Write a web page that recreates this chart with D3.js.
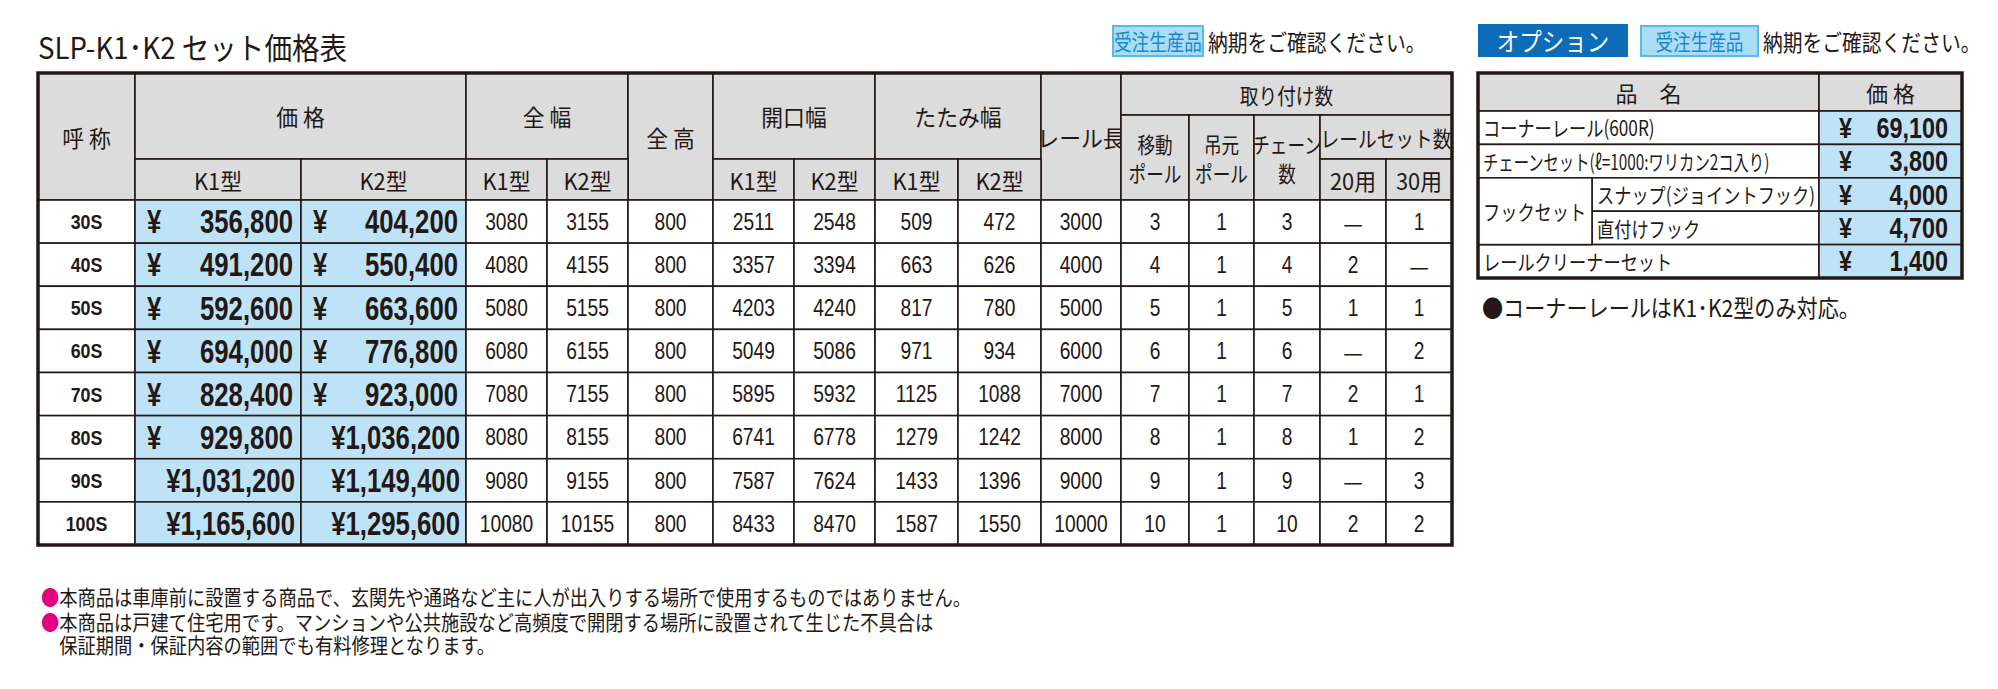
<!DOCTYPE html><html><head><meta charset="utf-8"><script src="https://cdn.jsdelivr.net/npm/d3@7"></script>
<style>body{margin:0;background:#fff}svg{display:block}</style></head><body><svg id="c" width="1998" height="689"></svg>
<script>
const sizes=["30S","40S","50S","60S","70S","80S","90S","100S"];
const priceK1=[356800,491200,592600,694000,828400,929800,1031200,1165600];
const priceK2=[404200,550400,663600,776800,923000,1036200,1149400,1295600];
const widthK1=[3080,4080,5080,6080,7080,8080,9080,10080];
const widthK2=[3155,4155,5155,6155,7155,8155,9155,10155];
const height=[800,800,800,800,800,800,800,800];
const openK1=[2511,3357,4203,5049,5895,6741,7587,8433];
const openK2=[2548,3394,4240,5086,5932,6778,7624,8470];
const foldK1=[509,663,817,971,1125,1279,1433,1587];
const foldK2=[472,626,780,934,1088,1242,1396,1550];
const rail=[3000,4000,5000,6000,7000,8000,9000,10000];
const movePole=[3,4,5,6,7,8,9,10];
const basePole=[1,1,1,1,1,1,1,1];
const chain=[3,4,5,6,7,8,9,10];
const set20=["—","2","1","—","2","1","—","2"];
const set30=["1","—","1","2","1","2","3","2"];
const optNames=["コーナーレール(600R)","チェーンセット(ℓ=1000:ワリカン2コ入り)","スナップ(ジョイントフック)","直付けフック","レールクリーナーセット"];
const optPrices=[69100,3800,4000,4700,1400];
const notes=["●本商品は車庫前に設置する商品で、玄関先や通路など主に人が出入りする場所で使用するものではありません。","●本商品は戸建て住宅用です。マンションや公共施設など高頻度で開閉する場所に設置されて生じた不具合は","　保証期間・保証内容の範囲でも有料修理となります。"];

const svg=d3.select("#c");
const JP="'Noto Sans CJK JP',sans-serif", NR="'Liberation Sans','Noto Sans',sans-serif";
const LC="#231815", GR="#dcdcdc", BL="#bfe3f6";
const fmt=d3.format(",");
const X=[38,135,301,466,547,628,713,794,875,958,1041,1121,1189,1254,1320,1386,1452];
const yTop=73,yMid=115,yH2=159,yBody=200,yBot=545;
const y=d3.scaleBand().domain(sizes).range([yBody,yBot]);
function rect(x0,y0,x1,y1,fill){svg.append("rect").attr("x",x0).attr("y",y0).attr("width",x1-x0).attr("height",y1-y0).attr("fill",fill).attr("stroke",LC).attr("stroke-width",1.6);}
function text(t,x,y0,o={}){const sx=o.sx||1;const e=svg.append("text").attr("x",x/sx).attr("y",y0).attr("text-anchor",o.a||"middle").attr("dominant-baseline","central").attr("font-family",o.f||JP).attr("font-size",o.s||19).attr("font-weight",o.w||"normal").attr("fill",o.c||LC).text(t);if(sx!=1)e.attr("transform",`scale(${sx},1)`);if(o.ls)e.attr("letter-spacing",o.ls);return e;}
text("SLP-K1･K2 セット価格表",38,46,{a:"start",s:30,sx:0.92});
const hdr=[[0,1,yTop,yBody,["呼 称"]],[1,3,yTop,yH2,["価 格"]],[3,5,yTop,yH2,["全 幅"]],[5,6,yTop,yBody,["全 高"]],[6,8,yTop,yH2,["開口幅"]],[8,10,yTop,yH2,["たたみ幅"]],[10,11,yTop,yBody,["レール長"]],[11,16,yTop,yMid,["取り付け数"]],
[1,2,yH2,yBody,["K1型"]],[2,3,yH2,yBody,["K2型"]],[3,4,yH2,yBody,["K1型"]],[4,5,yH2,yBody,["K2型"]],[6,7,yH2,yBody,["K1型"]],[7,8,yH2,yBody,["K2型"]],[8,9,yH2,yBody,["K1型"]],[9,10,yH2,yBody,["K2型"]],
[11,12,yMid,yBody,["移動","ポール"]],[12,13,yMid,yBody,["吊元","ポール"]],[13,14,yMid,yBody,["チェーン","数"]],[14,16,yMid,yH2,["レールセット数"]],[14,15,yH2,yBody,["20用"]],[15,16,yH2,yBody,["30用"]]];
hdr.forEach(([a,b,y0,y1,ls])=>{rect(X[a],y0,X[b],y1,GR);const cy=(y0+y1)/2,cx=(X[a]+X[b])/2;
 if(ls.length==1)text(ls[0],cx,cy,{s:ls[0].length>4?22:23,sx:ls[0].length>4?0.85:0.95});else{text(ls[0],cx,cy-14,{s:22,sx:0.8});text(ls[1],cx,cy+15,{s:22,sx:0.8});}});
const cols=[sizes,priceK1,priceK2,widthK1,widthK2,height,openK1,openK2,foldK1,foldK2,rail,movePole,basePole,chain,set20,set30];
sizes.forEach((s,i)=>{const y0=y(s),y1=y0+y.bandwidth(),cy=(y0+y1)/2;
 cols.forEach((col,j)=>{const isP=j==1||j==2;rect(X[j],y0,X[j+1],y1,isP?BL:"#fff");const v=col[i];
  const po={f:NR,s:33,w:"bold",sx:0.78};
  if(isP){const str=fmt(v);if(str.length>=9){text("¥"+str,X[j+1]-6,cy,{...po,a:"end"});}else{text("¥",X[j]+12,cy,{...po,a:"start"});text(str,X[j+1]-8,cy,{...po,a:"end"});}}
  else if(v=="—")text("—",(X[j]+X[j+1])/2,cy,{s:22});
  else text(v,(X[j]+X[j+1])/2,cy,{f:NR,s:j==0?21:24,sx:j==0?0.85:0.8,w:j==0?"bold":"normal"});});});
svg.append("rect").attr("x",X[0]).attr("y",yTop).attr("width",X[16]-X[0]).attr("height",yBot-yTop).attr("fill","none").attr("stroke",LC).attr("stroke-width",3.5);
function badge(x0,x1){svg.append("rect").attr("x",x0).attr("y",26).attr("width",x1-x0).attr("height",30).attr("fill","#a9dcf5").attr("stroke","#5bb8e8").attr("stroke-width",2);text("受注生産品",(x0+x1)/2,41,{s:22,c:"#1a86d0",sx:0.8});text("納期をご確認ください。",x1+5,41,{a:"start",s:23,sx:0.86});}
badge(1113,1203);badge(1641,1758);
svg.append("rect").attr("x",1478).attr("y",24).attr("width",150).attr("height",33).attr("fill","#0d6cb8");text("オプション",1553,40,{s:25,c:"#fff",sx:0.9});
const OX=[1478,1592,1819,1962],OY=[73,111,141,175,208,242,278];
const oy=d3.scaleBand().domain(d3.range(optNames.length)).range([OY[1],OY[6]]);
rect(OX[0],OY[0],OX[2],OY[1],GR);text("品　名",(OX[0]+OX[2])/2,92,{s:22});
rect(OX[2],OY[0],OX[3],OY[1],GR);text("価 格",(OX[2]+OX[3])/2,92,{s:22});
optNames.forEach((n,i)=>{const y0=oy(i),y1=y0+oy.bandwidth(),cy=(y0+y1)/2,sub=i==2||i==3;
 rect(sub?OX[1]:OX[0],y0,OX[2],y1,"#fff");text(n,(sub?OX[1]:OX[0])+5,cy,{a:"start",s:21,sx:i==1?0.73:0.82});
 rect(OX[2],y0,OX[3],y1,BL);text("¥",OX[2]+20,cy,{a:"start",f:NR,s:30,w:"bold",sx:0.78});text(fmt(optPrices[i]),OX[3]-14,cy,{a:"end",f:NR,s:30,w:"bold",sx:0.78});});
rect(OX[0],oy(2),OX[1],oy(3)+oy.bandwidth(),"#fff");text("フックセット",OX[0]+5,(oy(2)+oy(3)+oy.bandwidth())/2,{a:"start",s:21,sx:0.82});
svg.append("rect").attr("x",OX[0]).attr("y",OY[0]).attr("width",OX[3]-OX[0]).attr("height",OY[6]-OY[0]).attr("fill","none").attr("stroke",LC).attr("stroke-width",3.5);
text("●コーナーレールはK1･K2型のみ対応。",1482,307,{a:"start",s:24,sx:0.88});
const ny=[595,620,644];
notes.forEach((t,i)=>{const sx=0.87;const e=svg.append("text").attr("x",41/sx).attr("y",ny[i]).attr("transform",`scale(${sx},1)`).attr("dominant-baseline","central").attr("font-family",JP).attr("font-size",21).attr("fill",LC);
 if(t[0]=="●"){e.append("tspan").attr("fill","#e4007f").text("●");e.append("tspan").text(t.slice(1));}else e.text(t);});
</script></body></html>
